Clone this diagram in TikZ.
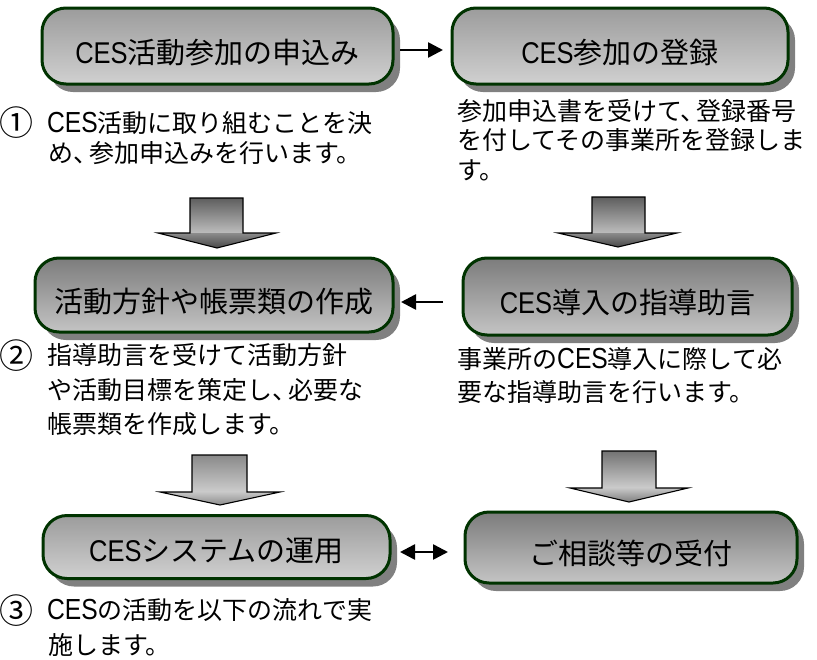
\documentclass[tikz,border=0pt]{standalone}
\usepackage{fontspec}
\setmainfont{Noto Sans CJK JP}
\newfontfamily\latf[FakeStretch=0.85]{Liberation Sans}
\newcommand\cesbox{{\latf\fontsize{30}{30}\selectfont CES}}
\newcommand\cesbody{{\latf\fontsize{29}{29}\selectfont CES}}
\usetikzlibrary{shadows,arrows.meta}
\definecolor{edgegreen}{RGB}{0,51,0}
\definecolor{lbtop}{HTML}{9C9C9C}
\definecolor{lbmid}{HTML}{ABABAB}
\definecolor{lbbot}{HTML}{D0D0D0}
\definecolor{dbtop}{HTML}{7C7C7C}
\definecolor{dbmid}{HTML}{5E5E5E}
\definecolor{dbbot}{HTML}{C4C4C4}
\begin{document}
\begin{tikzpicture}[x=1pt,y=-1pt,
  box/.style={rounded corners=24pt, draw=edgegreen, line width=3pt, inner sep=0pt,
    font=\fontsize{29}{29}\selectfont, text height=34pt, text depth=0pt,
    drop shadow={shadow xshift=7pt, shadow yshift=-8pt, fill=black!50, opacity=1, draw=none}},
  lightbox/.style={box, top color=lbtop, middle color=lbmid, bottom color=lbbot},
  darkbox/.style={box, top color=dbtop, middle color=dbmid, bottom color=dbbot},
  body/.style={font=\fontsize{25}{25}\selectfont, anchor=base west, inner sep=0pt},
  circ/.style={font=\fontsize{34}{34}\selectfont, anchor=base west, inner sep=0pt},
  link/.style={line width=2.6pt, -{Triangle[length=15pt,width=15pt]}},
  blink/.style={line width=2.6pt, {Triangle[length=15pt,width=15pt]}-{Triangle[length=15pt,width=15pt]}},
  bigout/.style={draw=black, line width=1.1pt, line join=miter}
]
\useasboundingbox (0,0) rectangle (817,659);

% boxes
\node[lightbox, minimum width=351pt, minimum height=76pt] (b1) at (217.5,46) {\cesbox 活動参加の申込み};
\node[lightbox, minimum width=336pt, minimum height=76pt] (b2) at (620,46) {\cesbox 参加の登録};
\node[darkbox, minimum width=358pt, minimum height=74pt] (b3) at (214,295) {活動方針や帳票類の作成};
\node[darkbox, minimum width=329pt, minimum height=77pt] (b4) at (627.5,296.5) {\cesbox 導入の指導助言};
\node[lightbox, minimum width=347pt, minimum height=63pt, text height=28pt] (b5) at (216.5,547) {\cesbox システムの運用};
\node[darkbox, minimum width=332pt, minimum height=71pt] (b6) at (631,547.5) {ご相談等の受付};

% small connectors
\draw[link, shorten <=5.5pt, shorten >=7.5pt] ([yshift=-4pt]b1.east) -- ([yshift=-4pt]b1.east -| b2.west);
\draw[link, shorten <=18.5pt, shorten >=6.5pt] ([yshift=-5.5pt]b4.west) -- ([yshift=-5.5pt]b4.west -| b3.east);
\draw[blink, shorten <=8.5pt, shorten >=15.5pt] ([yshift=-5pt]b5.east) -- ([yshift=-5pt]b5.east -| b6.west);

% big down arrows (upper)
\shade[top color=black!63, bottom color=black!26] (190,198) rectangle (243,233);
\shade[top color=black!45, bottom color=black!72] (158,233) -- (276,233) -- (217,248) -- cycle;
\draw[bigout] (190,198) -- (243,198) -- (243,233) -- (276,233) -- (217,248) -- (158,233) -- (190,233) -- cycle;

\shade[top color=black!63, bottom color=black!26] (592,197) rectangle (645,233);
\shade[top color=black!45, bottom color=black!72] (558,233) -- (677,233) -- (618,247) -- cycle;
\draw[bigout] (592,197) -- (645,197) -- (645,233) -- (677,233) -- (618,247) -- (558,233) -- (592,233) -- cycle;

% big down arrows (lower)
\shade[top color=black!46, bottom color=black!20] (192,455) rectangle (247,492);
\shade[top color=black!22, bottom color=black!45] (160,492) -- (280,492) -- (220,505) -- cycle;
\draw[bigout] (192,455) -- (247,455) -- (247,492) -- (280,492) -- (220,505) -- (160,492) -- (192,492) -- cycle;

\shade[top color=black!55, bottom color=black!20] (602,451) rectangle (656,488);
\shade[top color=black!22, bottom color=black!50] (570,488) -- (688,488) -- (629,502) -- cycle;
\draw[bigout] (602,451) -- (656,451) -- (656,488) -- (688,488) -- (629,502) -- (570,488) -- (602,488) -- cycle;

% texts
\node[circ] (n1) at (-1,135.5) {①};
\node[body] (t1a) at (47,132) {\cesbody 活動に取り組むことを決};
\node[body] (t1b) at (48,162.5) {め、\kern-9pt参加申込みを行います。};

\node[body] (t2a) at (457,120) {参加申込書を受けて、\kern-9pt登録番号};
\node[body] (t2b) at (457,149.5) {を付してその事業所を登録しま};
\node[body] (t2c) at (457,179) {す。};

\node[circ] (n2) at (-1,368) {②};
\node[body] (t3a) at (47,364.5) {指導助言を受けて活動方針};
\node[body] (t3b) at (47,399) {や活動目標を策定し、\kern-9pt必要な};
\node[body] (t3c) at (47,433.5) {帳票類を作成します。};

\node[body] (t4a) at (457,368.5) {事業所の\cesbody 導入に際して必};
\node[body] (t4b) at (457,401.5) {要な指導助言を行います。};

\node[circ] (n3) at (-1,623) {③};
\node[body] (t5a) at (47,619.5) {\cesbody の活動を以下の流れで実};
\node[body] (t5b) at (48,654.5) {施します。};
\end{tikzpicture}
\end{document}
